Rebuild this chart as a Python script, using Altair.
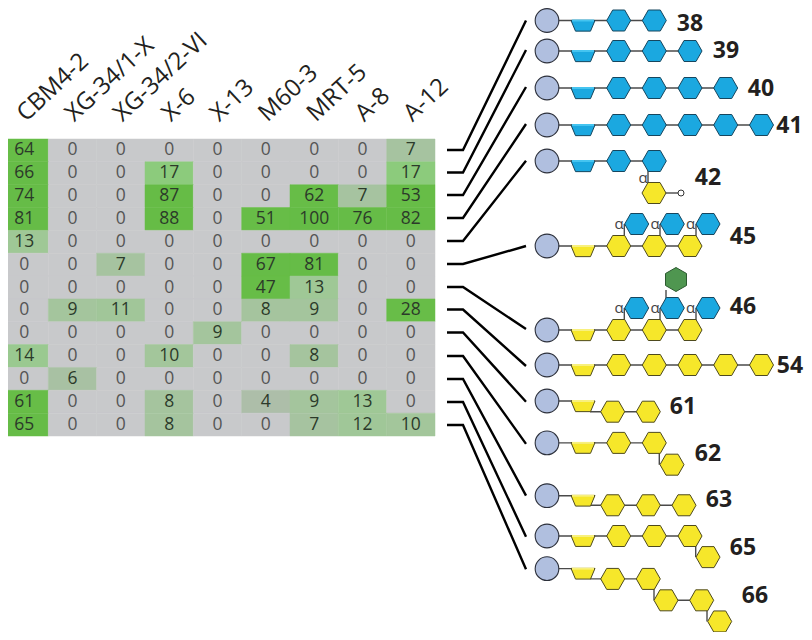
import altair as alt
import pandas as pd

FONT = "Open Sans"
ANTIBODIES = ["CBM4-2", "XG-34/1-X", "XG-34/2-VI", "X-6", "X-13", "M60-3", "MRT-5", "A-8", "A-12"]
GLYCAN_IDS = ["38", "39", "40", "41", "42", "45", "46", "54", "61", "62", "63", "65", "66"]
R38 = [64, 0, 0, 0, 0, 0, 0, 0, 7]
R39 = [66, 0, 0, 17, 0, 0, 0, 0, 17]
R40 = [74, 0, 0, 87, 0, 0, 62, 7, 53]
R41 = [81, 0, 0, 88, 0, 51, 100, 76, 82]
R42 = [13, 0, 0, 0, 0, 0, 0, 0, 0]
R45 = [0, 0, 7, 0, 0, 67, 81, 0, 0]
R46 = [0, 0, 0, 0, 0, 47, 13, 0, 0]
R54 = [0, 9, 11, 0, 0, 8, 9, 0, 28]
R61 = [0, 0, 0, 0, 9, 0, 0, 0, 0]
R62 = [14, 0, 0, 10, 0, 0, 8, 0, 0]
R63 = [0, 6, 0, 0, 0, 0, 0, 0, 0]
R65 = [61, 0, 0, 8, 0, 4, 9, 13, 0]
R66 = [65, 0, 0, 8, 0, 0, 7, 12, 10]
MATRIX = [R38, R39, R40, R41, R42, R45, R46, R54, R61, R62, R63, R65, R66]

# heat-map colours
HEAT_DOMAIN = [0, 4, 7, 13, 17, 28, 100]
HEAT_RANGE = ["#C8C9CB", "#ADBEA9", "#A6C3A0", "#9FC896", "#8CCB7C", "#68BD48", "#65BC46"]

# glycan drawing: reference frame in picture units
ROW_Y = [20.5, 51, 88, 125, 161, 246, 330, 365, 401, 443, 498, 540, 574]
ROW_LINK = [150, 172.5, 195, 218, 241, 264, 287, 309.5, 332.5, 356, 379, 402, 425]
ROW_END = [20.5, 50, 87, 124, 160.7, 246, 329, 366, 401.7, 444, 498, 540.7, 574.7]
LABEL_X = [690, 726, 761, 789.5, 708, 743, 743, 790, 683, 708, 719, 743, 755]
LABEL_Y = [24, 51, 89, 126, 178, 237, 307, 366, 407, 455, 503, 552, 602]

CIRCLE_X = 547
TRAP_X = 583
XA = [618.7, 654.3, 690, 725.7, 761.5]
XB = [612.7, 648.3, 684]

HEX_X = [XA[0], XA[1],
         XA[0], XA[1], XA[2],
         XA[0], XA[1], XA[2], XA[3],
         XA[0], XA[1], XA[2], XA[3], XA[4],
         XA[0], XA[1], 654,
         XA[0], XA[1], XA[2], 636.7, 672.3, 708,
         XA[0], XA[1], XA[2], 636.7, 672.3, 708,
         XA[0], XA[1], XA[2], XA[3], XA[4],
         XB[0], XB[1],
         XA[0], XA[1], 672,
         XB[0], XB[1], XB[2],
         XA[0], XA[1], XA[2], 708,
         XB[0], XB[1], 666, 701.7, 719.7]
HEX_Y = [20.5, 20.5,
         51, 51, 51,
         88, 88, 88, 88,
         125, 125, 125, 125, 125,
         161, 161, 193,
         246, 246, 246, 224, 224, 224,
         330, 330, 330, 308, 308, 308,
         365, 365, 365, 365, 365,
         411.7, 411.7,
         443, 443, 465.7,
         508, 508, 508,
         540, 540, 540, 562,
         584.7, 584.7, 607, 607, 629]
HEX_C = ["b"] * 16 + ["y"] + ["y"] * 3 + ["b"] * 3 + ["y"] * 3 + ["b"] * 3 + ["y"] * 5 + ["y"] * 2 + ["y"] * 3 + ["y"] * 3 + ["y"] * 4 + ["y"] * 5

TRAP_COLOR = ["b", "b", "b", "b", "b", "y", "y", "y", "y", "y", "y", "y", "y"]

# extra stems (x1, y1, x2, y2)
SEG_X1 = [648, 654, 624.3, 660, 696, 624.3, 660, 696, 666, 659.3, 695.7, 654, 707, 590, 590, 590, 666]
SEG_Y1 = [161, 193, 224, 224, 224, 308, 308, 308, 290, 443, 540, 585, 607, 411.7, 508, 584.7, 607]
SEG_X2 = [648, 681, 624.3, 660, 696, 624.3, 660, 696, 666, 659.3, 695.7, 654, 707, 648.3, 684, 648.3, 701.7]
SEG_Y2 = [193, 193, 246, 246, 246, 330, 330, 330, 308, 465.7, 562, 607, 629, 411.7, 508, 584.7, 607]

ALPHA_X = [643, 619, 655, 690.5, 619, 655, 690.5]
ALPHA_Y = [177.5, 224, 224, 224, 308, 308, 308]

# ---- tables ----
heat = pd.DataFrame([
    {"Antibody": a, "Glycan": g, "Value": MATRIX[i][j]}
    for i, g in enumerate(GLYCAN_IDS) for j, a in enumerate(ANTIBODIES)
])
hexes = pd.DataFrame({"x": HEX_X, "y": HEX_Y, "c": HEX_C})
rows = pd.DataFrame({"id": GLYCAN_IDS, "y": ROW_Y, "c": TRAP_COLOR, "lx": LABEL_X, "ly": LABEL_Y})
rows["cx"] = CIRCLE_X
rows["tx"] = TRAP_X
rows["ty"] = rows["y"] + 5.3
rows["sx"] = TRAP_X - 11
rows["sx2"] = TRAP_X + 11

links = []
for i, g in enumerate(GLYCAN_IDS):
    links.append({"g": g, "o": 0, "x": 447, "y": ROW_LINK[i]})
    links.append({"g": g, "o": 1, "x": 463, "y": ROW_LINK[i]})
    links.append({"g": g, "o": 2, "x": 526, "y": ROW_END[i]})
links = pd.DataFrame(links)

# backbone segments
segs = []
for i, g in enumerate(GLYCAN_IDS):
    y = ROW_Y[i]
    first = [v for v, w in zip(HEX_X, HEX_Y) if w == y]
    if first:
        segs.append({"x": CIRCLE_X, "y": y, "x2": max(first), "y2": y})
    else:
        segs.append({"x": CIRCLE_X, "y": y, "x2": TRAP_X, "y2": y})
for a, b, c, d in zip(SEG_X1, SEG_Y1, SEG_X2, SEG_Y2):
    segs.append({"x": a, "y": b, "x2": c, "y2": d})
segs = pd.DataFrame(segs)
alpha = pd.DataFrame({"x": ALPHA_X, "y": ALPHA_Y, "t": ["α"] * len(ALPHA_X)})

PX = alt.Scale(domain=[8, 804], range=[0, 796], nice=False, zero=False)
PY = alt.Scale(domain=[8, 440, 640], range=[0, 432, 624], nice=False, zero=False)
X = alt.X("x:Q", scale=PX, axis=None)
Y = alt.Y("y:Q", scale=PY, axis=None)

HEX_PATH = "M-1,0L-0.5,-0.875L0.5,-0.875L1,0L0.5,0.875L-0.5,0.875Z"
HEX_V_PATH = "M0,-1L0.875,-0.5L0.875,0.5L0,1L-0.875,0.5L-0.875,-0.5Z"
TRAP_PATH = "M-1,-0.445L1,-0.445L0.625,0.445L-0.625,0.445Z"
FILL = alt.Scale(domain=["b", "y"], range=["#1BA8E0", "#F6E72A"])
STRIP = alt.Scale(domain=["b", "y"], range=["#45C4F0", "#F8F07E"])
EDGE = alt.Scale(domain=["b", "y"], range=["#17465E", "#4E4A1E"])

heat_x = alt.X(
    "Antibody:N", sort=ANTIBODIES,
    scale=alt.Scale(domain=ANTIBODIES, range=[-8, 427]),
    axis=alt.Axis(orient="top", title=None, domain=False, ticks=False, labelAngle=317,
                  labelAlign="left", labelBaseline="middle", labelFont=FONT, labelFontSize=24,
                  labelColor="#231F20", labelPadding=22, labelOffset=-3, offset=-131,
                  labelOverlap=False, labelLimit=300),
)
heat_y = alt.Y("Glycan:N", sort=GLYCAN_IDS,
               scale=alt.Scale(domain=GLYCAN_IDS, range=[131, 428]), axis=None)
heat_c = alt.Color("Value:Q", scale=alt.Scale(domain=HEAT_DOMAIN, range=HEAT_RANGE), legend=None)
heat_s = alt.Stroke("Value:Q", scale=alt.Scale(domain=HEAT_DOMAIN, range=HEAT_RANGE), legend=None)

cells = alt.Chart(heat).mark_rect(strokeWidth=0.5).encode(x=heat_x, y=heat_y, color=heat_c, stroke=heat_s)
nums = alt.Chart(heat).mark_text(font=FONT, fontSize=17.5, baseline="middle", align="center").encode(
    x=heat_x, y=heat_y, text="Value:Q",
    color=alt.condition(alt.datum.Value == 0, alt.value("#555555"), alt.value("#2C3A2A")),
)
heatmap = alt.layer(cells, nums)

link_lines = alt.Chart(links).mark_line(color="#000000", strokeWidth=2.4, interpolate="linear").encode(
    x=X, y=Y, detail="g:N", order="o:Q")
bones = alt.Chart(segs).mark_rule(color="#4A4A4A", strokeWidth=1.4).encode(x=X, y=Y, x2="x2:Q", y2="y2:Q")
circles = alt.Chart(rows).mark_point(filled=True, size=560, shape="circle", fill="#B0BFDF",
                                     stroke="#2B2F3A", strokeWidth=1.1, opacity=1).encode(
    x=alt.X("cx:Q", scale=PX, axis=None), y=Y)
traps = alt.Chart(rows).mark_point(filled=True, size=576, shape=TRAP_PATH, strokeWidth=1, opacity=1).encode(
    x=alt.X("tx:Q", scale=PX, axis=None), y=alt.Y("ty:Q", scale=PY, axis=None),
    fill=alt.Fill("c:N", scale=FILL, legend=None),
    stroke=alt.Stroke("c:N", scale=EDGE, legend=None))
strips = alt.Chart(rows).mark_rule(strokeWidth=2).encode(
    x=alt.X("sx:Q", scale=PX, axis=None), x2="sx2:Q", y=alt.Y("y:Q", scale=PY, axis=None),
    color=alt.Color("c:N", scale=STRIP, legend=None))
hex_marks = alt.Chart(hexes).mark_point(filled=True, size=576, shape=HEX_PATH, strokeWidth=1, opacity=1).encode(
    x=X, y=Y,
    fill=alt.Fill("c:N", scale=FILL, legend=None),
    stroke=alt.Stroke("c:N", scale=EDGE, legend=None))
green = alt.Chart(pd.DataFrame({"x": [676], "y": [279.5]})).mark_point(
    filled=True, size=576, shape=HEX_V_PATH, fill="#4F9650", stroke="#2C5A30", strokeWidth=1, opacity=1
).encode(x=X, y=Y)
tip = alt.Chart(pd.DataFrame({"x": [681], "y": [193]})).mark_point(
    filled=True, size=36, shape="circle", fill="#FFFFFF", stroke="#333333", strokeWidth=1, opacity=1
).encode(x=X, y=Y)
alpha_marks = alt.Chart(alpha).mark_text(font=FONT, fontSize=15, color="#444444").encode(x=X, y=Y, text="t:N")
numbers = alt.Chart(rows).mark_text(font=FONT, fontSize=23, fontWeight="bold", color="#231F20", align="center").encode(
    x=alt.X("lx:Q", scale=PX, axis=None), y=alt.Y("ly:Q", scale=PY, axis=None), text="id:N")

schematic = alt.layer(link_lines, bones, circles, traps, strips, hex_marks, green, tip, alpha_marks, numbers)

chart = alt.layer(heatmap, schematic).resolve_scale(
    x="independent", y="independent", color="independent", fill="independent", stroke="independent"
).properties(
    width=796, height=624, padding=0, autosize=alt.AutoSizeParams(type="none"), background="#FFFFFF"
).configure_view(stroke=None)

chart.save("out.html", embed_options={"renderer": "svg", "actions": False})
